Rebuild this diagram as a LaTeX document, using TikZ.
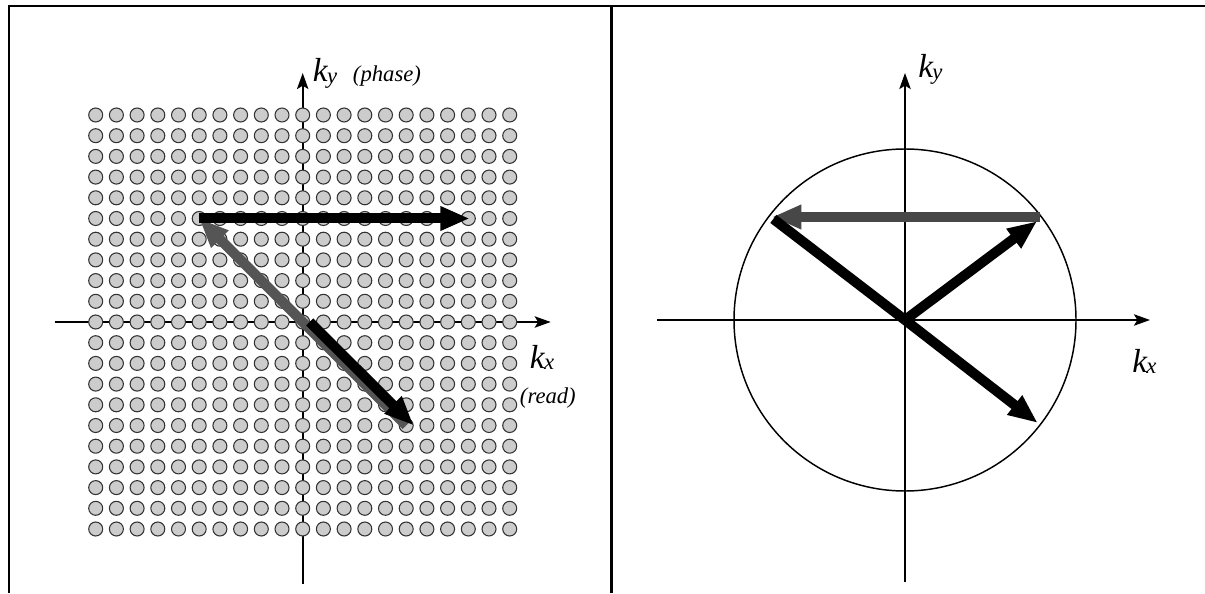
\documentclass[tikz,border=0pt]{standalone}
\usepackage{fontspec}
\setmainfont{Liberation Serif}
\usetikzlibrary{arrows.meta}

\definecolor{dotfill}{HTML}{CCCCCC}
\definecolor{dotline}{HTML}{333333}
\definecolor{backleft}{HTML}{555555}
\definecolor{backright}{HTML}{474747}

% k with a small index letter
\newcommand{\kvec}[1]{{\fontsize{25}{25}\selectfont\itshape k\kern-0.5pt\raisebox{-1pt}{\fontsize{17}{17}\selectfont #1}}}
\newcommand{\kaxis}[1]{{\fontsize{17}{17}\selectfont\itshape #1}}

\tikzset{
  frameline/.style={line width=2pt},
  axis/.style={line width=1.6pt, -{Stealth[length=12pt, width=8.5pt, inset=2.5pt]}},
  dot/.style={draw=dotline, fill=dotfill, line width=0.8pt},
  bigarrow/.style={line width=7.5pt, -{Triangle[length=22pt, width=17pt]}},
  bigline/.style={line width=7.5pt},
  lbl/.style={anchor=base west, inner sep=0pt},
}

\begin{document}
\begin{tikzpicture}[x=0.75pt, y=0.75pt]
\useasboundingbox (0,0) rectangle (1205,593);

% frame
\draw[frameline] (9,0) -- (9,587) -- (1205,587);
\draw[frameline] (611.5,0) -- (611.5,587);

% left: cartesian sampling
\begin{scope}[shift={(302.7,271)}]
\draw[axis] (-248,0) -- (248,0);
\draw[axis] (0,-262) -- (0,249);
\foreach \i in {-10,...,10}
  \foreach \j in {-10,...,10}
    \draw[dot] (\i*20.7,\j*20.7) circle[radius=7];

\coordinate (o1) at (7,0);
\coordinate (d1) at (111,-103.5);
\coordinate (g1) at (103.5,-103.5);
\coordinate (u1) at (-103.5,103.5);
\coordinate (r1) at (167,103.5);
\draw[bigarrow, backleft] (g1) -- (u1);
\draw[bigarrow] (o1) -- (d1);
\draw[bigarrow] (u1) -- (r1);

\node[lbl] (kyl) at (10,240) {\kvec{y}};
\node[lbl] (phase) at (50,240) {\kaxis{(phase)}};
\node[lbl] (kxl) at (227,-46) {\kvec{x}};
\node[lbl] (read) at (217,-81) {\kaxis{(read)}};
\end{scope}

% right: radial sampling
\begin{scope}[shift={(905,273)}]
\draw[axis] (-248,0) -- (245,0);
\draw[axis] (0,-262) -- (0,247);
\draw[line width=1.1pt] (0,0) circle[radius=171];

\coordinate (o2) at (0,0);
\coordinate (ur) at (36.8:165);
\coordinate (ul) at (142.5:166);
\coordinate (lr) at (-37.8:168);
\coordinate (gs) at (135,103);
\coordinate (ge) at (-133,103);
\draw[bigarrow, backright] (gs) -- (ge);
\draw[bigarrow] (o2) -- (ur);
\draw[bigline] (o2) -- (ul);
\draw[bigarrow] (o2) -- (lr);

\node[lbl] (kyr) at (13,242) {\kvec{y}};
\node[lbl] (kxr) at (227,-52) {\kvec{x}};
\end{scope}
\end{tikzpicture}
\end{document}
